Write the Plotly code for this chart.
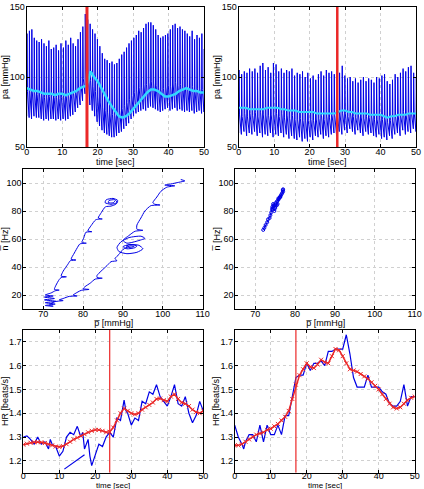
import numpy as np
import plotly.graph_objects as go

# ---------------- data ----------------
# top-left: beat-by-beat systolic / diastolic pressure [mmHg]
sys_left = [131,133,134,128,126, 125,127,124,122,126,120, 121,123,119,124,121,126,123,
            128,124,122,127,132,136,145, 141,138,134,131,127, 122,117,113,112,110,111,
            109,110,113,116,118,121, 124,126,128,130,133,132, 135,138,139,139,137,134,
            130,128,129,130,131,134, 137,138,135,136,134,133, 131,129,133,127,130,128,131,120]
dia_left = [72,71,70,72,71, 71,70,69,70,69,70, 70,69,70,69,70,69,70,
            72,73,75,78,80,83,88, 85,80,76,72,68, 65,62,60,59,58,57,
            57,58,60,61,63,65, 67,70,72,74,75,76, 77,76,78,79,78,77,
            76,75,76,77,78,76, 77,78,76,77,76,75, 76,75,76,74,75,76,74,75]
mean_left = [92,91,90,90,89,88,88,88,87,88,88,87,88,89,90,92,93,94,104,100,
             97,92,87,83,79,75,72,71,72,74,77,80,83,86,89,91,91,90,88,86,
             86,87,88,90,91,92,91,90,90,89,89]

# top-right
sys_right = [105,102,104,103,106, 104,106,103,108,110, 105,107,103,110,109,
             104,106,103,105,104, 106,101,103,102,104, 100,103,99,101,98,
             102,104,101,105,103, 104,102,105,103,108, 101,99,100,97,99,
             96,98,100,97,99, 98,96,100,99,101, 102,97,95,98,102,
             100,103,106,104,107, 108,103,100]
dia_right = [60,59,61,58,60, 59,61,58,60,57, 59,58,60,57,59, 58,60,57,59,56,
             58,56,55,57,54, 56,54,57,55,58, 57,59,56,58,57, 59,60,58,61,59,
             62,60,63,61,59, 62,60,58,61,59, 60,58,57,59,56, 57,55,58,56,59,
             60,58,62,59,61, 60,63,61]
mean_right = [78,78,78,77,77,77,77,77,78,78,78,78,77,77,76,76,76,75,75,75,
              75,75,74,74,74,74,74,74,75,76,76,75,75,74,74,74,74,73,73,73,
              73,72,71,72,72,73,73,73,74,74,74]
mean_time = list(range(0, 51))

event_top_left = 17
event_top_right = 27.8
event_bot_left = 24
event_bot_right = 17

# middle-left phase plot (p-bar vs n-bar)
phase_left = [(104.5,102.5),(105.5,101.5),(104,100.5),(102,99.3),(100.5,98.5),(103,98),(101,97),
 (99.5,94),(98.5,90),(97.5,86),(98,84.8),(99.3,84.3),(97,83.8),(95.5,80),(94.5,75),(93.5,70),
 (93.5,67),(95,66.2),(93,65.5),(91.5,62.5),(90,59),(91,57),(93.5,58.5),(95.5,60.5),(94.5,62),
 (91.5,61),(89.5,58),(88.5,54),(89,51),(91,49.5),(93.5,50.5),(95,53),(94,55.5),(91.5,56),
 (90,54.5),(91,53),(93,53.8),(93.5,55),(92,56),(90.8,55),(91.5,54),(92.8,54.6),(92,55.2),
 (90,52.5),(89,49),(88,46),(88.5,44.5),(87,43.8),(86,41),(84.5,37),(83.5,34),(83.5,32.5),
 (84.8,32),(83,31.3),(81.8,28.5),(80.5,26),(80,24.5),(81.5,24),(79.5,23.3),(78,21),(77.5,20),
 (78.5,19.3),(76.5,19),(75,17.5),(74,16.5),(75,16),(73,15.3),(72,14),(71.5,12.5),(72.5,12),
 (70.5,12.5),(73,13.5),(70.5,14.5),(73.2,15.5),(70.3,16.5),(72.8,17.5),(70.3,18.5),(72.5,19.3),
 (70.5,20),(72,21.5),(73,23),(74,23.5),(72.8,24),(73.2,27),(74,31),(74.5,32.5),(75.8,33),
 (74.5,33.5),(75,37),(76.2,42),(76.8,44.5),(78.2,45),(77,45.5),(77.8,50),(78.8,55),(79.2,56.5),
 (80.8,57),(79.7,57.5),(80.2,61),(80.7,64.8),(82.2,65.2),(81.2,65.8),(82,69.5),(83.2,73.8),
 (84.8,74.3),(83.8,75),(84.6,79),(85.6,83),(87,83.5),(88.3,85),(88.7,87.5),(87.5,89),(85.8,88),
 (85.5,86),(87,84.8),(88.5,86),(88,88),(86.5,87.5),(86.3,86),(87.5,85.8),(88,87)]
p_left = [a for a, b in phase_left]
n_left = [b for a, b in phase_left]

phase_right = [(72,66.5),(72.3,68),(72.6,70),(73,72),(73.2,74),(73.6,75),(73.8,77),(74,79),
 (74.2,81),(74.3,83),(74.6,84),(74.3,82),(74.8,80),(75,82),(74.5,85),(75.2,86),(75.4,84),
 (75,83),(75.6,85),(75.8,88),(75.5,87),(76,89),(76.2,90),(75.8,89),(76.4,91),(76.6,92),
 (76.3,90),(76.8,93),(77,94),(76.9,95),(77,95.5)]
p_right = [a for a, b in phase_right]
n_right = [b for a, b in phase_right]

# bottom: heart rate
hr_t_left = [0,1,2,3,4,5,6,7,7.5,8,9,10,11,12,13,14,15,16,16.5,17,18,18.5,19,20,21,22,23,24,25,
             26,27,28,28.5,29,30,31,32,33,34,35,36,37,38,39,40,41,42,43,44,45,46,47,48,49,50]
hr_left = [1.30,1.305,1.29,1.27,1.30,1.27,1.28,1.25,1.29,1.27,1.26,1.22,1.24,1.30,1.32,1.31,
           1.345,1.30,1.32,1.25,1.29,1.22,1.18,1.23,1.27,1.26,1.30,1.32,1.30,1.38,1.37,1.455,
           1.41,1.40,1.35,1.38,1.37,1.45,1.44,1.49,1.48,1.52,1.47,1.45,1.43,1.47,1.52,1.44,
           1.43,1.47,1.40,1.36,1.39,1.45,1.41]
stray_t = [11.4, 17]
stray_hr = [1.165, 1.225]
hr_smooth_left = [1.268,1.272,1.276,1.278,1.279,1.278,1.275,1.27,1.265,1.26,1.258,1.262,1.27,
                  1.28,1.29,1.297,1.305,1.312,1.32,1.326,1.33,1.33,1.326,1.32,1.322,1.34,1.37,
                  1.40,1.42,1.41,1.40,1.395,1.40,1.415,1.425,1.435,1.445,1.46,1.462,1.455,1.45,
                  1.47,1.48,1.46,1.445,1.44,1.43,1.415,1.405,1.40,1.41]

hr_t_right = [0,1,2,2.5,3,4,5,6,7,8,9,10,11,12,13,14,15,16,17,18,19,20,21,22,23,24,25,26,27,
              28,29,30,31,32,33,34,35,36,37,38,39,40,41,42,43,44,45,46,47,48,49,50]
hr_right = [1.35,1.30,1.27,1.25,1.28,1.31,1.31,1.28,1.35,1.28,1.35,1.31,1.31,1.35,1.31,1.39,
            1.39,1.47,1.55,1.56,1.56,1.61,1.58,1.61,1.61,1.62,1.60,1.66,1.66,1.67,1.67,1.67,
            1.73,1.65,1.55,1.51,1.51,1.51,1.56,1.51,1.51,1.51,1.49,1.48,1.44,1.43,1.43,1.45,
            1.52,1.43,1.47,1.47]
hr_smooth_right = [1.265,1.265,1.27,1.28,1.29,1.30,1.31,1.315,1.32,1.33,1.335,1.345,1.355,1.37,
                   1.385,1.41,1.46,1.52,1.56,1.585,1.61,1.595,1.59,1.605,1.625,1.615,1.61,1.64,
                   1.67,1.665,1.64,1.61,1.585,1.58,1.575,1.565,1.555,1.545,1.53,1.515,1.50,1.48,
                   1.46,1.44,1.425,1.42,1.425,1.44,1.455,1.465,1.47]

# ---------------- styling ----------------
BLUE = "rgb(0,0,230)"
CYAN = "rgb(50,215,255)"
RED = "rgb(235,40,40)"
FONT = "Liberation Sans, Arial, sans-serif"


def pulse(sysv, diav):
    """Beat waveform: fast upstroke, fast drop to the dicrotic level, slow run-off."""
    n = len(sysv)
    tb = np.linspace(0, 50, n)
    dt = tb[1] - tb[0]
    xs, ys = [], []
    for k in range(n):
        s, d = sysv[k], diav[k]
        xs += [tb[k], tb[k] + 0.12 * dt, tb[k] + 0.3 * dt]
        ys += [d, s, d + 0.3 * (s - d)]
    return xs, ys


fig = go.Figure()

# top-left
x, y = pulse(sys_left, dia_left)
fig.add_trace(go.Scatter(x=x, y=y, mode="lines", line=dict(color=BLUE, width=1), xaxis="x", yaxis="y"))
fig.add_trace(go.Scatter(x=mean_time, y=mean_left, mode="lines", line=dict(color=CYAN, width=2.5), xaxis="x", yaxis="y"))
fig.add_trace(go.Scatter(x=[event_top_left]*2, y=[50, 150], mode="lines", line=dict(color=RED, width=3), xaxis="x", yaxis="y"))

# top-right
x, y = pulse(sys_right, dia_right)
fig.add_trace(go.Scatter(x=x, y=y, mode="lines", line=dict(color=BLUE, width=1), xaxis="x2", yaxis="y2"))
fig.add_trace(go.Scatter(x=mean_time, y=mean_right, mode="lines", line=dict(color=CYAN, width=2), xaxis="x2", yaxis="y2"))
fig.add_trace(go.Scatter(x=[event_top_right]*2, y=[50, 150], mode="lines", line=dict(color=RED, width=2.5), xaxis="x2", yaxis="y2"))

# middle
fig.add_trace(go.Scatter(x=p_left, y=n_left, mode="lines", line=dict(color=BLUE, width=1, shape="spline", smoothing=0.6), xaxis="x3", yaxis="y3"))
fig.add_trace(go.Scatter(x=p_right, y=n_right, mode="lines+markers", line=dict(color=BLUE, width=1),
                         marker=dict(symbol="circle-open", size=3, color=BLUE, line=dict(width=1)), xaxis="x4", yaxis="y4"))

# bottom-left
fig.add_trace(go.Scatter(x=hr_t_left, y=hr_left, mode="lines", line=dict(color=BLUE, width=1.2), xaxis="x5", yaxis="y5"))
fig.add_trace(go.Scatter(x=stray_t, y=stray_hr, mode="lines", line=dict(color=BLUE, width=1.2), xaxis="x5", yaxis="y5"))
fig.add_trace(go.Scatter(x=mean_time, y=hr_smooth_left, mode="lines+markers", line=dict(color=RED, width=1.5),
                         marker=dict(symbol="x-thin", size=4, line=dict(color=RED, width=1)), xaxis="x5", yaxis="y5"))
fig.add_trace(go.Scatter(x=[event_bot_left]*2, y=[1.15, 1.75], mode="lines", line=dict(color=RED, width=1.2), xaxis="x5", yaxis="y5"))

# bottom-right
fig.add_trace(go.Scatter(x=hr_t_right, y=hr_right, mode="lines", line=dict(color=BLUE, width=1.2), xaxis="x6", yaxis="y6"))
fig.add_trace(go.Scatter(x=mean_time, y=hr_smooth_right, mode="lines+markers", line=dict(color=RED, width=1.5),
                         marker=dict(symbol="x-thin", size=4, line=dict(color=RED, width=1)), xaxis="x6", yaxis="y6"))
fig.add_trace(go.Scatter(x=[event_bot_right]*2, y=[1.15, 1.75], mode="lines", line=dict(color=RED, width=1.2), xaxis="x6", yaxis="y6"))

W, H = 424, 489


def xd(a, b):
    return [a / W, b / W]


def yd(top, bot):
    return [1 - bot / H, 1 - top / H]


common = dict(showline=True, linecolor="black", linewidth=1, mirror="ticks", ticks="inside",
              ticklen=3, tickcolor="black", showgrid=True, gridcolor="#d0d0d0", griddash="dot",
              gridwidth=1, zeroline=False, automargin=False,
              tickfont=dict(size=9, color="black", family=FONT))

axes = {
    "xaxis": dict(domain=xd(26.7, 204), range=[0, 50], tickvals=[0, 10, 20, 30, 40, 50], anchor="y"),
    "yaxis": dict(domain=yd(7, 147), range=[50, 150], tickvals=[50, 100, 150], anchor="x"),
    "xaxis2": dict(domain=xd(238.7, 416), range=[0, 50], tickvals=[0, 10, 20, 30, 40, 50], anchor="y2"),
    "yaxis2": dict(domain=yd(7, 147), range=[50, 150], tickvals=[50, 100, 150], anchor="x2"),
    "xaxis3": dict(domain=xd(23.3, 202.7), range=[65, 110], tickvals=[70, 80, 90, 100, 110], anchor="y3"),
    "yaxis3": dict(domain=yd(169, 309), range=[10, 110], tickvals=[20, 40, 60, 80, 100], anchor="x3"),
    "xaxis4": dict(domain=xd(235.3, 414.7), range=[65, 110], tickvals=[70, 80, 90, 100, 110], anchor="y4"),
    "yaxis4": dict(domain=yd(169, 309), range=[10, 110], tickvals=[20, 40, 60, 80, 100], anchor="x4"),
    "xaxis5": dict(domain=xd(23.3, 203.3), range=[0, 50], tickvals=[0, 10, 20, 30, 40, 50], anchor="y5"),
    "yaxis5": dict(domain=yd(330, 472.7), range=[1.15, 1.75], tickvals=[1.2, 1.3, 1.4, 1.5, 1.6, 1.7], anchor="x5"),
    "xaxis6": dict(domain=xd(234.7, 414.7), range=[0, 50], tickvals=[0, 10, 20, 30, 40, 50], anchor="y6"),
    "yaxis6": dict(domain=yd(330, 472.7), range=[1.15, 1.75], tickvals=[1.2, 1.3, 1.4, 1.5, 1.6, 1.7], anchor="x6"),
}
for k, v in axes.items():
    v.update(common)
    if k in ("xaxis5", "xaxis6"):
        v["ticklabelstandoff"] = -6
    elif k.startswith("x"):
        v["ticklabelstandoff"] = -4
    else:
        v["ticklabelstandoff"] = -1

# axis titles as annotations (text, x px, y px, rotated?, font size)
titles = [
    ("time [sec]", 115, 162, False, 9), ("time [sec]", 327, 162, False, 9),
    ("pa [mmHg]", 5, 77, True, 9), ("pa [mmHg]", 217, 77, True, 9),
    ("p\u0305 [mmHg]", 113, 323, False, 9), ("p\u0305 [mmHg]", 325, 323, False, 9),
    ("n\u0305 [Hz]", 5, 239, True, 9), ("n\u0305 [Hz]", 217, 239, True, 9),
    ("time [sec]", 113, 485, False, 8), ("time [sec]", 325, 485, False, 8),
    ("HR [beats/s]", 5, 401, True, 9), ("HR [beats/s]", 216, 401, True, 9),
]
annotations = []
for text, px, py, rot, fs in titles:
    annotations.append(dict(text=text, x=px / W, y=1 - py / H, xref="paper", yref="paper",
                            xanchor="center", yanchor="middle", showarrow=False,
                            textangle=-90 if rot else 0,
                            font=dict(size=fs, color="black", family=FONT)))

fig.update_layout(width=W, height=H, margin=dict(l=0, r=0, t=0, b=0), showlegend=False,
                  paper_bgcolor="white", plot_bgcolor="white", font=dict(family=FONT, size=9),
                  annotations=annotations, **axes)

fig.write_html("out.html")
